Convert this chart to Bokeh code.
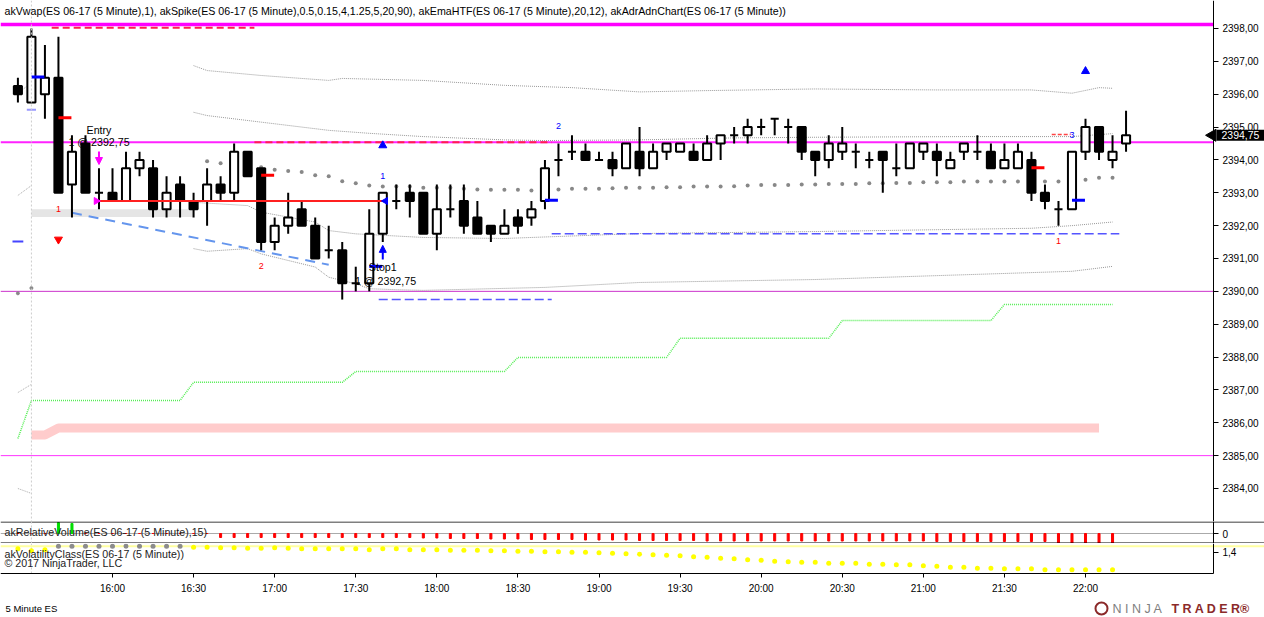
import pandas as pd
from bokeh.plotting import figure
from bokeh.layouts import column
from bokeh.models import (ColumnDataSource, Span, Label, FixedTicker, Range1d, Arrow,
                          NormalHead, DatetimeTickFormatter, LinearAxis)
from bokeh.embed import file_html
from bokeh.resources import INLINE
from bokeh.core.properties import value

# ---------------- data ----------------
open_ = [2396.25, 2395.75, 2396.0, 2396.5, 2393.25, 2394.5, 2393.0, 2393.0, 2392.75, 2393.75,
         2393.75, 2392.5, 2393.25, 2392.75, 2392.75, 2393.25, 2393.0, 2394.25, 2393.75, 2391.5,
         2392.0, 2392.5, 2392.0, 2391.25, 2391.25, 2390.25, 2390.25, 2391.75, 2392.75, 2393.0,
         2393.0, 2391.75, 2392.5, 2392.75, 2392.25, 2392.0, 2391.75, 2392.25, 2392.25, 2392.75,
         2394.0, 2394.25, 2394.25, 2394.0, 2394.0, 2393.75, 2394.25, 2393.75, 2394.25, 2394.25,
         2394.25, 2394.0, 2394.5, 2394.75, 2394.75, 2395.0, 2395.25, 2395.0, 2395.0, 2394.25,
         2394.0, 2394.25, 2394.25, 2394.0, 2394.25, 2393.75, 2393.75, 2394.25, 2394.25, 2393.75,
         2394.25, 2394.25, 2394.25, 2393.75, 2393.75, 2394.0, 2393.0, 2392.5, 2392.5, 2394.25,
         2395.0, 2394.0, 2394.5]
high_ = [2396.5, 2398.0, 2397.5, 2397.75, 2394.75, 2394.75, 2393.75, 2393.75, 2394.25, 2394.25,
         2394.0, 2393.5, 2393.5, 2393.0, 2393.75, 2393.5, 2394.5, 2394.25, 2393.75, 2392.25,
         2393.0, 2392.75, 2392.25, 2392.0, 2391.5, 2390.75, 2392.5, 2393.0, 2393.25, 2393.25,
         2393.0, 2393.25, 2393.25, 2393.25, 2392.75, 2392.0, 2392.5, 2392.5, 2392.75, 2394.0,
         2394.5, 2394.75, 2394.5, 2394.25, 2394.25, 2394.5, 2395.0, 2394.5, 2394.5, 2394.5,
         2394.5, 2394.75, 2394.75, 2395.0, 2395.25, 2395.25, 2395.25, 2395.25, 2395.0, 2394.25,
         2394.75, 2395.0, 2394.5, 2394.25, 2394.25, 2394.5, 2394.5, 2394.5, 2394.5, 2394.25,
         2394.5, 2394.75, 2394.5, 2394.5, 2394.5, 2394.25, 2393.25, 2392.75, 2394.25, 2395.25,
         2395.0, 2394.75, 2395.5]
low_ = [2395.75, 2395.75, 2395.25, 2393.0, 2392.25, 2393.0, 2392.5, 2392.75, 2392.75, 2393.5,
        2392.25, 2392.25, 2392.25, 2392.25, 2392.0, 2392.75, 2392.75, 2393.5, 2391.25, 2391.25,
        2391.75, 2392.0, 2391.0, 2391.0, 2389.75, 2390.0, 2390.0, 2391.5, 2392.5, 2392.25,
        2391.75, 2391.25, 2392.25, 2391.75, 2391.75, 2391.5, 2391.75, 2391.75, 2392.0, 2392.5,
        2393.5, 2394.0, 2394.0, 2394.0, 2393.5, 2393.75, 2393.5, 2393.75, 2394.0, 2394.25,
        2394.0, 2394.0, 2394.0, 2394.5, 2394.5, 2394.75, 2394.75, 2394.5, 2394.0, 2393.5,
        2393.75, 2394.0, 2393.75, 2393.75, 2393.0, 2393.5, 2393.75, 2394.0, 2393.5, 2393.75,
        2394.0, 2394.0, 2393.75, 2393.75, 2393.75, 2392.75, 2392.5, 2392.0, 2392.5, 2394.0,
        2394.0, 2393.75, 2394.25]
close_ = [2396.0, 2397.75, 2396.5, 2393.0, 2394.25, 2393.0, 2393.0, 2392.75, 2393.75, 2394.0,
          2392.5, 2393.0, 2392.75, 2392.5, 2393.25, 2393.0, 2394.25, 2393.5, 2391.5, 2392.0,
          2392.25, 2392.0, 2391.0, 2391.25, 2390.25, 2390.25, 2391.75, 2393.0, 2392.75, 2392.75,
          2391.75, 2392.5, 2392.5, 2392.0, 2391.75, 2391.75, 2392.0, 2392.0, 2392.5, 2393.75,
          2394.0, 2394.25, 2394.0, 2394.0, 2393.75, 2394.5, 2393.75, 2394.25, 2394.5, 2394.5,
          2394.0, 2394.5, 2394.75, 2394.75, 2395.0, 2395.0, 2395.25, 2395.0, 2394.25, 2394.0,
          2394.5, 2394.5, 2394.25, 2394.0, 2394.0, 2393.75, 2394.5, 2394.5, 2394.0, 2394.0,
          2394.5, 2394.25, 2393.75, 2394.0, 2394.25, 2393.0, 2392.75, 2392.5, 2394.25, 2395.0,
          2394.25, 2394.25, 2394.75]

# akEmaHTF grey dots, bars 14..81
ema_first_bar = 14
ema_dots = [2393.96, 2393.90, 2393.86, 2393.90, 2393.78, 2393.70, 2393.66, 2393.63, 2393.53, 2393.50,
            2393.35, 2393.29, 2393.22, 2393.19, 2393.19, 2393.19, 2393.15, 2393.15, 2393.15, 2393.12,
            2393.10, 2393.09, 2393.09, 2393.09, 2393.07, 2393.09, 2393.10, 2393.12, 2393.12, 2393.12,
            2393.14, 2393.15, 2393.15, 2393.15, 2393.17, 2393.17, 2393.19, 2393.19, 2393.19, 2393.20,
            2393.22, 2393.24, 2393.24, 2393.24, 2393.25, 2393.25, 2393.27, 2393.27, 2393.27, 2393.29,
            2393.29, 2393.30, 2393.30, 2393.32, 2393.32, 2393.32, 2393.34, 2393.34, 2393.34, 2393.34,
            2393.34, 2393.34, 2393.34, 2393.34, 2393.34, 2393.40, 2393.46, 2393.46]

# akVwap bands (bar index, price)
band1_bars = [13, 14, 18, 23, 24, 30, 36, 41, 46, 51, 59, 68, 75, 78, 80, 81]
band1_vals = [2396.87, 2396.72, 2396.57, 2396.42, 2396.48, 2396.42, 2396.27, 2396.20, 2396.07,
              2396.11, 2396.16, 2396.13, 2396.13, 2396.03, 2396.20, 2396.18]
band2_bars = [13, 14, 18, 23, 26, 30, 36, 39, 46, 53, 59, 70, 78, 81]
band2_vals = [2395.45, 2395.35, 2395.15, 2394.90, 2394.81, 2394.71, 2394.61, 2394.59, 2394.61,
              2394.67, 2394.69, 2394.71, 2394.71, 2394.80]
band3_bars = [13, 17, 18, 22, 23, 25, 30, 36, 46, 59, 75, 78, 81]
band3_vals = [2392.71, 2392.61, 2392.41, 2392.11, 2391.85, 2391.75, 2391.64, 2391.61, 2391.76,
              2391.82, 2391.92, 2392.00, 2392.11]
band4_bars = [13, 14, 17, 18, 22, 23, 25, 26, 28, 30, 39, 46, 59, 78, 81]
band4_vals = [2391.30, 2391.22, 2391.30, 2391.14, 2390.74, 2390.43, 2390.23, 2390.08, 2390.05,
              2390.03, 2390.12, 2390.27, 2390.36, 2390.61, 2390.76]
# previous-session band ends (bar 0 -> bar 1)
prev_band_start = [2396.02, 2392.92, 2386.92, 2384.00]
prev_band_end = [2396.36, 2393.22, 2387.17, 2383.85]
prev_dots = [2389.94, 2390.10]

# akAdrAdnChart green step line, bars 0..81
adr_green = ([2385.52] + [2386.68] * 12 + [2387.23] * 12 + [2387.56] * 12 + [2387.99] * 12
             + [2388.57] * 12 + [2389.11] * 12 + [2389.60] * 9)
# pink band, bars 1..80
pink_first_bar = 1
pink_band = [2385.63] * 2 + [2385.84] * 78

# horizontal levels
level_top = 2398.12
level_mid = 2394.54
level_90 = 2390.0
level_85 = 2385.0

# relative volume, bars 0..81
rel_volume = ([0, 0, 0, 1.1, 1.0] + [0] * 10 + [-0.4] * 15
              + [-0.45, -0.45, -0.5, -0.5, -0.5, -0.55, -0.55, -0.55, -0.6, -0.6, -0.6, -0.6, -0.65, -0.65,
                 -0.65, -0.65, -0.7, -0.7, -0.7, -0.7, -0.7, -0.75, -0.75, -0.75, -0.75, -0.75, -0.75, -0.75]
              + [-0.75] * 10 + [-0.8] * 9 + [-0.95] * 5)
# volatility class, bars 0..81
volatility = ([1.47, 1.43, 1.45] + [1.52] * 10
              + [1.50, 1.50, 1.49, 1.49, 1.48, 1.48, 1.49, 1.48, 1.47, 1.47, 1.47, 1.47, 1.47, 1.45, 1.47, 1.47, 1.45]
              + [1.45, 1.45, 1.44, 1.44, 1.44, 1.43, 1.43, 1.42, 1.42, 1.41, 1.41, 1.40, 1.40, 1.39, 1.38,
                 1.37, 1.36, 1.35, 1.34, 1.33, 1.31, 1.30, 1.28, 1.27, 1.25, 1.24, 1.22, 1.21]
              + [1.20, 1.20, 1.18, 1.18, 1.18, 1.16, 1.16, 1.15, 1.15, 1.13, 1.12, 1.10, 1.10, 1.08, 1.08,
                 1.07, 1.07, 1.07, 1.05, 1.05, 1.05, 1.05, 1.05, 1.05])
volatility_grey_bars = list(range(3, 13))
volatility_level = 1.52

price_ticks = list(range(2384, 2399))
price_tick_labels = [f"{t},00" for t in price_ticks]
time_tick_labels = ["16:00", "16:30", "17:00", "17:30", "18:00", "18:30", "19:00",
                    "19:30", "20:00", "20:30", "21:00", "21:30", "22:00"]
last_price = 2394.75
last_price_text = "2394,75"

title_text = ("akVwap(ES 06-17 (5 Minute),1), akSpike(ES 06-17 (5 Minute),0.5,0.15,4,1.25,5,20,90), "
              "akEmaHTF(ES 06-17 (5 Minute),20,12), akAdrAdnChart(ES 06-17 (5 Minute))")

# ---------------- geometry / style ----------------
FONT = "Liberation Sans"
W = 1264
MIN = 60 * 1000
BAR = 5 * MIN
PX_PER_MIN = 2.7028
FIRST_PX = 17.4
t0 = pd.Timestamp("2017-05-15 15:25").value // 10**6
n = len(open_)
times = [t0 + i * BAR for i in range(n)]

def T(i):
    return t0 + i * BAR

def PX(px):  # screen column -> time
    return t0 + (px - FIRST_PX) / PX_PER_MIN * MIN

X0 = PX(0)
X_AXIS = PX(1213)
xr = Range1d(X0, PX(W))

main_h = 521
PPP = 32.857
ytop = 2398.852
main_y = Range1d(ytop - main_h / PPP, ytop)

def base_fig(height, yr, xaxis=False):
    f = figure(width=W, height=height, x_range=xr, y_range=yr,
               x_axis_type="datetime",
               x_axis_location="below" if xaxis else None, y_axis_location=None,
               output_backend="svg", toolbar_location=None, min_border=0)
    f.xgrid.visible = False
    f.ygrid.visible = False
    f.background_fill_color = "white"
    f.border_fill_color = "white"
    f.outline_line_color = None
    return f

def right_axis(f, ticks, overrides, bounds):
    ax = LinearAxis(fixed_location=X_AXIS, bounds=bounds)
    ax.ticker = FixedTicker(ticks=ticks)
    ax.major_label_overrides = overrides
    ax.axis_line_color = "black"
    ax.major_tick_out = 5
    ax.major_tick_in = 0
    ax.minor_tick_out = 0
    ax.minor_tick_in = 0
    ax.major_label_standoff = 4
    ax.major_label_text_font = FONT
    ax.major_label_text_font_size = "10px"
    ax.major_label_text_color = "black"
    f.add_layout(ax, "right")
    return ax

def lab(fig, x, y, text, color="black", size="10.67px", align="center", **kw):
    fig.add_layout(Label(x=x, y=y, text=text, text_color=color, text_font=FONT,
                         text_font_size=size, text_align=align, text_baseline="middle", **kw))

# ---------------- main price panel ----------------
p = base_fig(main_h, main_y)
right_axis(p, price_ticks, {t: l for t, l in zip(price_ticks, price_tick_labels)},
           (main_y.start, main_y.end))
p.add_layout(Span(location=T(1), dimension="height", line_color="#cccccc",
                  line_dash="2 2", line_width=1))

# grey zone
p.quad(left=T(1), right=T(13), bottom=2392.26, top=2392.50, fill_color="#e5e5e5", line_color=None)

# pink band & green line
p.line([T(pink_first_bar + i) for i in range(len(pink_band))], pink_band,
       line_color="#ffcccc", line_width=9)
p.line([T(i) for i in range(len(adr_green))], adr_green, line_color="#55ee55",
       line_width=1.5, line_dash="1 1")

# horizontal levels
p.segment(x0=[X0] * 4, x1=[X_AXIS] * 4, y0=[level_top, level_mid, level_90, level_85],
          y1=[level_top, level_mid, level_90, level_85],
          line_color=["#ff00ff", "#ff22ff", "#cc33cc", "#ff33ff"], line_width=[3.5, 2, 1, 1])

# vwap bands
for bb, vv in ((band1_bars, band1_vals), (band2_bars, band2_vals),
               (band3_bars, band3_vals), (band4_bars, band4_vals)):
    p.line([T(b) for b in bb], vv, line_color="#999999", line_width=1, line_dash="1 1")
p.segment(x0=[T(0)] * 4, x1=[T(1)] * 4, y0=prev_band_start, y1=prev_band_end,
          line_color="#aaaaaa", line_width=1, line_dash="1 1")
p.scatter([T(0), T(1)], prev_dots, size=3, color="#888888")

# dashed swing lines
half = 2.5 * MIN
p.segment(x0=[T(3) - half, T(18) - half], y0=[2398.02, level_mid],
          x1=[T(17) + half, T(39) + half], y1=[2398.02, level_mid],
          line_color="#ff2050", line_width=2, line_dash="7 4")
p.segment(x0=[T(27) - 1.5 * MIN, T(40) - half], y0=[2389.75, 2391.75],
          x1=[T(39) + half, T(81) + half], y1=[2389.75, 2391.75],
          line_color="#5555ff", line_width=1.5, line_dash="9 4")
# trend line
p.line([T(4), T(23)], [2392.39, 2390.81], line_color="#6495ed", line_width=2, line_dash="10 7")

# ema dots
p.scatter([T(ema_first_bar + i) for i in range(len(ema_dots))], ema_dots, size=4,
          color="#888888", line_color=None)

# candles
src = ColumnDataSource(dict(
    t=times, o=open_, h=high_, l=low_, c=close_,
    top=[max(a, b) for a, b in zip(open_, close_)],
    bottom=[min(a, b) for a, b in zip(open_, close_)],
    fill=["white" if c >= o else "black" for o, c in zip(open_, close_)],
))
p.segment(x0="t", y0="h", x1="t", y1="l", line_color="black", line_width=2, source=src)
p.vbar(x="t", width=3.0 * MIN, top="top", bottom="bottom", fill_color="fill",
       line_color="black", line_width=2, source=src)

# trade line
p.segment(x0=[T(6) - 1 * MIN], y0=[2392.75], x1=[T(27) + 1 * MIN], y1=[2392.75],
          line_color="#ff2020", line_width=2)
p.scatter([T(6) - 1 * MIN], [2392.75], marker="triangle", angle=-1.5708, size=7,
          color="#ff00ff")
p.scatter([T(27) + 1 * MIN], [2392.75], marker="triangle", angle=1.5708, size=7,
          color="#0000ff")

# short thick dashes (bar -> next bar)
blue_dash_bars = [1, 26, 39, 78]
blue_dash_vals = [2396.52, 2390.76, 2392.77, 2392.77]
red_dash_bars = [3, 18, 75]
red_dash_vals = [2395.28, 2393.53, 2393.76]
p.segment(x0=[T(b) for b in blue_dash_bars], y0=blue_dash_vals,
          x1=[T(b) + 4.8 * MIN for b in blue_dash_bars], y1=blue_dash_vals,
          line_color="#0000ff", line_width=3)
p.segment(x0=[T(b) for b in red_dash_bars], y0=red_dash_vals,
          x1=[T(b) + 4.8 * MIN for b in red_dash_bars], y1=red_dash_vals,
          line_color="#ff0000", line_width=3)
p.segment(x0=[T(1) - 1.7 * MIN, T(0) - 2 * MIN], y0=[2395.53, 2391.52],
          x1=[T(1) + 1.7 * MIN, T(0) + 2 * MIN], y1=[2395.53, 2391.52],
          line_color=["#9999ff", "#4444ff"], line_width=2)
p.segment(x0=[T(76) + 2.5 * MIN], y0=[2394.77], x1=[T(78) - 0.5 * MIN], y1=[2394.77],
          line_color="#ff4444", line_width=1.5, line_dash="4 2")

# triangles
p.scatter([T(27), T(79)], [2394.44, 2396.70], marker="triangle", size=8, color="#0000ff")
p.scatter([T(3)], [2391.58], marker="inverted_triangle", size=8, color="#ff0000")

# arrows
p.add_layout(Arrow(end=NormalHead(size=7, fill_color="#ff00ff", line_color="#ff00ff"),
                   x_start=T(6), y_start=2394.26, x_end=T(6), y_end=2393.86,
                   line_color="#ff00ff", line_width=2))
p.add_layout(Arrow(end=NormalHead(size=7, fill_color="#0000ff", line_color="#0000ff"),
                   x_start=T(27), y_start=2390.97, x_end=T(27), y_end=2391.40,
                   line_color="#0000ff", line_width=2))

# small numbers
for b, v, t in ((3, 2392.51, "1"), (18, 2390.76, "2"), (77, 2391.52, "1")):
    lab(p, T(b), v, t, color="#ff0000", size="9px")
for b, v, t in ((27, 2393.50, "1"), (40, 2395.02, "2"), (78, 2394.77, "3")):
    lab(p, T(b), v, t, color="#0000ff", size="9px")

# trade texts
lab(p, T(6), 2394.90, "Entry")
lab(p, T(6), 2394.56, "1 @ 2392,75")
lab(p, T(27), 2390.73, "Stop1")
lab(p, T(27) + 1 * MIN, 2390.33, "1 @ 2392,75")

# title
p.add_layout(Label(x=4, y=main_h - 10, x_units="screen", y_units="screen", text=title_text,
                   text_font=FONT, text_font_size="10.67px", text_color="black",
                   text_baseline="middle"))

# last price marker (drawn over the axis)
box = p.quad(left=PX(1216), right=PX(W), bottom=last_price - 0.17, top=last_price + 0.17,
             fill_color="black", line_color=None)
box.level = "overlay"
tri = p.scatter([PX(1212)], [last_price], marker="triangle", angle=1.5708, size=12,
                color="black")
tri.level = "overlay"
txt = p.text([PX(1221)], [last_price], text=[last_price_text], text_color="white",
             text_font=value(FONT), text_font_size="10.5px", text_baseline="middle",
             text_align="left")
txt.level = "overlay"

# ---------------- relative volume panel ----------------
RV_LO, RV_HI = -1.0, 1.2
pv = base_fig(22, Range1d(RV_LO, RV_HI))
right_axis(pv, [0], {0: "0"}, (RV_LO, RV_HI))
pv.add_layout(Span(location=RV_HI - 0.05, dimension="width", line_color="black", line_width=1))
pv.add_layout(Span(location=RV_LO + 0.05, dimension="width", line_color="black", line_width=1))
pv.add_layout(Span(location=T(1), dimension="height", line_color="#cccccc",
                   line_dash="2 2", line_width=1))
pv.segment(x0=[X0], x1=[X_AXIS], y0=[0], y1=[0], line_color="#aaaaaa", line_width=1)
rv_t = [T(i) for i in range(len(rel_volume))]
pv.vbar(x=rv_t, width=0.75 * MIN, top=0, bottom=rel_volume,
        color=["#00dd00" if v > 0 else "#ff0000" for v in rel_volume])
pv.add_layout(Label(x=4, y=12, x_units="screen", y_units="screen",
                    text="akRelativeVolume(ES 06-17 (5 Minute),15)",
                    text_font=FONT, text_font_size="10.67px", text_color="#222222",
                    text_baseline="middle"))

# ---------------- volatility panel + time axis + footer ----------------
FOOT = 43
VPX = 50.0
v_top = 1.574
v_bot = 0.974
pc = base_fig(30 + FOOT, Range1d(v_bot - FOOT / VPX, v_top), xaxis=True)
right_axis(pc, [1.4], {1.4: "1,4"}, (v_bot, v_top))
pc.segment(x0=[T(1)], x1=[T(1)], y0=[v_bot], y1=[v_top], line_color="#cccccc",
           line_dash="2 2", line_width=1)
pc.segment(x0=[X0], x1=[PX(W)], y0=[volatility_level], y1=[volatility_level],
           line_color="#ffffa0", line_width=2)
pc.scatter([T(i) for i in range(len(volatility))], volatility, size=5, line_color=None,
           color=["#8c8c8c" if i in volatility_grey_bars else "#ffff00" for i in range(len(volatility))])
tick_ms = [t0 + (35 + 30 * k) * MIN for k in range(len(time_tick_labels))]
xa = pc.xaxis[0]
xa.fixed_location = v_bot
xa.bounds = (X0, X_AXIS)
xa.ticker = FixedTicker(ticks=tick_ms)
xa.formatter = DatetimeTickFormatter(minutes="%H:%M", hourmin="%H:%M", hours="%H:%M")
xa.major_label_overrides = {t: l for t, l in zip(tick_ms, time_tick_labels)}
xa.axis_line_color = "black"
xa.major_tick_out = 4
xa.major_tick_in = 0
xa.minor_tick_out = 0
xa.minor_tick_in = 0
xa.major_label_standoff = 5
xa.major_label_text_font = FONT
xa.major_label_text_font_size = "10px"
xa.major_label_text_color = "black"

def ylev(px_below_top):
    return v_top - px_below_top / VPX

for txt_, dy in (("akVolatilityClass(ES 06-17 (5 Minute))", 10),
                 ("\u00a9 2017 NinjaTrader, LLC", 19)):
    pc.add_layout(Label(x=4, y=ylev(dy), x_units="screen", text=txt_,
                        text_font=FONT, text_font_size="10.67px", text_color="#222222",
                        text_baseline="middle"))
pc.add_layout(Label(x=5, y=ylev(65), x_units="screen", text="5 Minute ES",
                    text_font=FONT, text_font_size="9.5px", text_color="black",
                    text_baseline="middle"))
pc.scatter([PX(1101)], [ylev(65)], marker="circle", size=12, fill_color=None,
           line_color="#8b2a2a", line_width=2)
pc.add_layout(Label(x=1112, y=ylev(65), x_units="screen", text="N I N J A",
                    text_font=FONT, text_font_size="12.5px", text_color="#808080",
                    text_baseline="middle"))
pc.add_layout(Label(x=1171, y=ylev(65), x_units="screen", text="T R A D E R\u00ae",
                    text_font=FONT, text_font_size="12.5px", text_font_style="bold",
                    text_color="#8b2a2a", text_baseline="middle"))

layout = column(p, pv, pc, spacing=0)
open("out.html", "w").write(file_html(layout, INLINE))
